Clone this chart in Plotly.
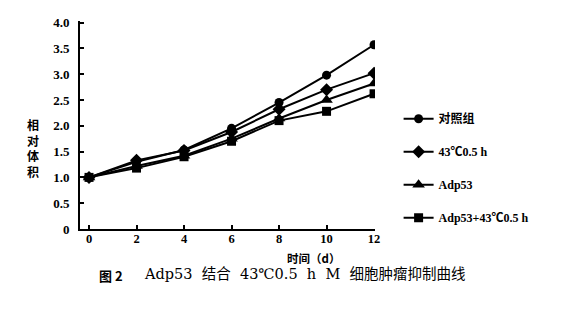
import plotly.graph_objects as go

days = [0, 2, 4, 6, 8, 10, 12]
control = [1.0, 1.30, 1.53, 1.95, 2.45, 2.98, 3.57]
heat = [1.0, 1.33, 1.52, 1.88, 2.32, 2.70, 3.02]
adp53 = [1.0, 1.22, 1.42, 1.75, 2.14, 2.50, 2.82]
combo = [1.0, 1.18, 1.40, 1.70, 2.10, 2.28, 2.62]

names = ["对照组", "43℃0.5 h", "Adp53", "Adp53+43℃0.5 h"]
symbols = ["circle", "diamond", "triangle-up", "square"]
sizes = [9, 10, 11, 9]
series = [control, heat, adp53, combo]

NB = "\u00a0\u00a0"
caption_label = "<b>图 2</b>"
caption_text = NB.join(["Adp53", "结合", "43℃0.5", "h", "M", "细胞肿瘤抑制曲线"])

FONT = "Liberation Serif, Noto Sans CJK SC"
CAPFONT = "DejaVu Serif, Noto Sans CJK SC"
L, R = 80, 375

fig = go.Figure()
for i, (nm, ys) in enumerate(zip(names, series)):
    fig.add_trace(go.Scatter(
        x=days, y=ys, name=nm, mode="lines+markers",
        line=dict(color="black", width=2),
        marker=dict(symbol=symbols[i], size=sizes[i], color="black"),
        legendgroup=str(i),
    ))

fig.update_layout(
    width=577, height=336,
    margin=dict(l=L, r=577 - R, t=21, b=107),
    paper_bgcolor="white", plot_bgcolor="white",
    font=dict(family=FONT, color="black", size=13),
    showlegend=True,
    legend=dict(x=1.08, xanchor="left", y=0.60, yanchor="top",
                font=dict(family=FONT, size=12, weight="bold"),
                tracegroupgap=14, itemwidth=30, bgcolor="rgba(0,0,0,0)"),
    xaxis=dict(range=[-0.38, 12.04], tickvals=days, ticktext=[str(d) for d in days],
               showline=True, linecolor="black", linewidth=2, ticks="inside",
               ticklen=4, tickcolor="black", tickwidth=1.5, showgrid=False, zeroline=False,
               ticklabelstandoff=-3,
               tickfont=dict(family=FONT, size=12.5, weight="bold")),
    yaxis=dict(range=[0, 4.03], tickvals=[0, 0.5, 1, 1.5, 2, 2.5, 3, 3.5, 4],
               ticktext=["0", "0.5", "1.0", "1.5", "2.0", "2.5", "3.0", "3.5", "4.0"],
               showline=True, linecolor="black", linewidth=2, ticks="inside",
               ticklen=4, tickcolor="black", tickwidth=1.5, showgrid=False, zeroline=False,
               ticklabelstandoff=6,
               tickfont=dict(family=FONT, size=13, weight="bold")),
)

fig.add_annotation(text="相<br>对<br>体<br>积", xref="paper", yref="paper",
                   x=-0.158, y=0.39, xanchor="center", yanchor="middle", showarrow=False,
                   font=dict(family="Noto Sans CJK SC", size=12, weight="bold"))
fig.add_annotation(text="时间（d）", xref="paper", yref="paper",
                   x=(313 - L) / (R - L), y=-0.092, xanchor="center", yanchor="top",
                   showarrow=False,
                   font=dict(family="Noto Sans CJK SC, " + FONT, size=11.5, weight="bold"))
fig.add_annotation(text=caption_label, xref="paper", yref="paper",
                   x=(97 - L) / (R - L), y=-0.17, xanchor="left", yanchor="top",
                   showarrow=False, font=dict(family="Noto Sans CJK SC", size=13))
fig.add_annotation(text=caption_text, xref="paper", yref="paper",
                   x=(142 - L) / (R - L), y=-0.168, xanchor="left", yanchor="top",
                   showarrow=False, font=dict(family=CAPFONT, size=14.5))

fig.write_html("out.html")
